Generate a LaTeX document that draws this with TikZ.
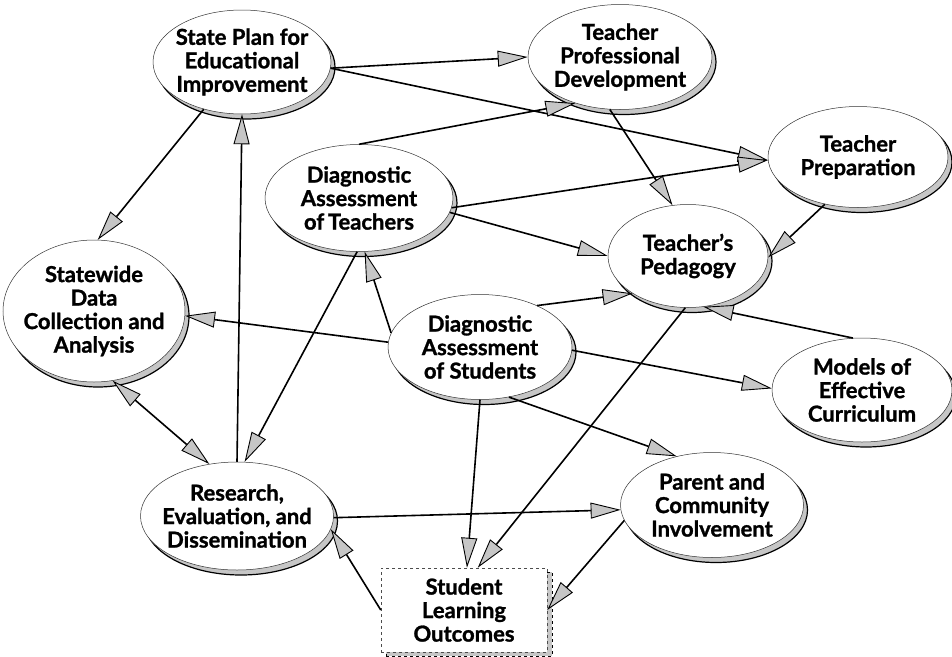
\documentclass[tikz,border=0pt]{standalone}
\usepackage{fontspec}
\setmainfont{Lato}[BoldFeatures={FakeBold=1.2}]
\usetikzlibrary{shapes.geometric,shadows,arrows.meta}

\begin{document}
\begin{tikzpicture}[x=1pt, y=-1pt,
  >={Triangle[length=30pt, width=16pt, fill=gray!45, line width=0.9pt]},
  bubble/.style={ellipse, draw=black!80, line width=0.5pt, fill=white, inner sep=0pt,
    minimum width=184pt, minimum height=105pt,
    general shadow={shadow xshift=4pt, shadow yshift=-5pt, fill=gray!45, draw=black, line width=1.2pt}},
  box/.style={rectangle, draw=black!70, dashed, line width=0.5pt, fill=white, inner sep=0pt,
    minimum width=166pt, minimum height=84pt,
    general shadow={shadow xshift=5pt, shadow yshift=-4pt, fill=gray!45, draw=black, line width=1pt}},
  txt/.style={align=center, inner sep=0pt, font=\fontsize{22}{23.5}\selectfont\bfseries},
  link/.style={draw, line width=1.6pt, ->}]
\useasboundingbox (0,0) rectangle (952,656);

% nodes
\node[bubble, minimum width=178pt, minimum height=104pt, label={[txt]center:State Plan for\\Educational\\Improvement}] (sp) at (242,62) {};
\node[bubble, label={[txt]center:Teacher\\Professional\\Development}] (tpd) at (620,57) {};
\node[bubble, minimum width=180pt, minimum height=101pt, label={[txt]center:Teacher\\Preparation}] (tp) at (858,157) {};
\node[bubble, minimum width=188pt, minimum height=107pt, label={[txt]center:Diagnostic\\Assessment\\of\,Teachers}] (dat) at (359,198) {};
\node[bubble, minimum width=160pt, minimum height=103pt, label={[txt]center:Teacher's\\Pedagogy}] (ped) at (688,256) {};
\node[bubble, minimum width=182pt, minimum height=142pt, label={[txt]center:Statewide\\Data\\Collection and\\Analysis}] (sdc) at (94,311) {};
\node[bubble, label={[txt]center:Diagnostic\\Assessment\\of Students}] (das) at (480,347) {};
\node[bubble, minimum width=180pt, minimum height=104pt, label={[txt]center:Models of\\Effective\\Curriculum}] (mec) at (862,390) {};
\node[bubble, minimum width=183pt, label={[txt]center:Parent and\\Community\\Involvement}] (pci) at (712,505) {};
\node[bubble, minimum width=193pt, minimum height=108pt, label={[txt]center:Research,\\Evaluation, and\\Dissemination}] (red) at (237,516) {};
\node[box, label={[txt]center:Student\\Learning\\Outcomes}] (slo) at (464,610) {};

% connectors
\draw[link] (sp.-4) -- (tpd.180);
\draw[link] (sp.-4) -- (tp.182);
\draw[link] (sp.231) -- (sdc.87);
\draw[link] (red.north) -- (sp.south);
\draw[link, <->] (sdc.-75) -- (red.118);
\draw[link] (dat.north) -- (tpd.226);
\draw[link] (dat.-6) -- (tp.182);
\draw[link] (dat.-9) -- (ped.west);
\draw[link] (tpd.259) -- (ped.107);
\draw[link] (tp.235) -- (ped.-1);
\draw[link] (das.36) -- (ped.214);
\draw[link] (mec.100) -- (ped.-73);
\draw[link] (das.171) -- (dat.-84);
\draw[link] (das.177) -- (sdc.-3);
\draw[link] (das.-2) -- (mec.179);
\draw[link] (das.-60) -- (pci.126);
\draw[link] (das.south) -- (slo.86);
\draw[link] (dat.268) -- (red.82);
\draw[link] (ped.267) -- (slo.72);
\draw[link] (red.-1) -- (pci.183);
\draw[link] (slo.west) -- (red.-8);
\draw[link] (pci.190) -- (slo.east);
\end{tikzpicture}
\end{document}
